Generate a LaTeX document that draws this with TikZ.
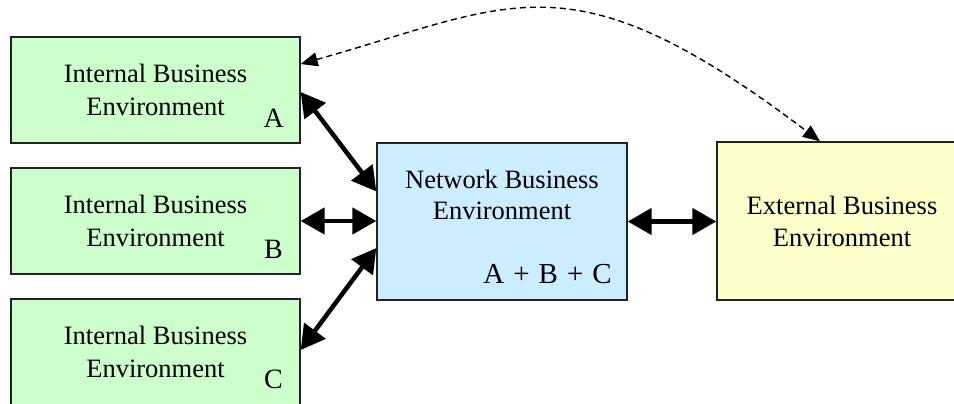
\documentclass[tikz,border=0pt]{standalone}
\usepackage{fontspec}
\setmainfont{Liberation Serif}
\usetikzlibrary{arrows.meta}
\definecolor{intgreen}{HTML}{CCFFCC}
\definecolor{netblue}{HTML}{CCECFF}
\definecolor{extyellow}{HTML}{FFFFCC}
\definecolor{edgegray}{HTML}{222222}
\tikzset{
  envbox/.style={draw=edgegray, line width=1.3pt, inner sep=0pt, align=center,
    font=\fontsize{26.5}{33}\selectfont},
  intbox/.style={envbox, fill=intgreen, minimum width=289pt, minimum height=106pt},
  netbox/.style={envbox, fill=netblue, minimum width=250pt, minimum height=157pt},
  extbox/.style={envbox, fill=extyellow, minimum width=250pt, minimum height=158pt},
  tag/.style={inner sep=0pt, anchor=base east, font=\fontsize{28}{32}\selectfont},
  link/.style={line width=4.5pt, {Triangle[length=24pt,width=26pt]}-{Triangle[length=24pt,width=26pt]}},
  loose/.style={line width=1.4pt, dash pattern=on 6pt off 4pt,
    {Triangle[length=17pt,width=14pt]}-{Triangle[length=17pt,width=14pt]}}
}
\newcommand{\tagsep}{\hspace{9pt}}
\begin{document}
\begin{tikzpicture}[x=1pt, y=-1pt]
  \useasboundingbox (0,0) rectangle (954,404);

  % internal environments
  \node[intbox] (intA) at (155.5,90)  {Internal Business\\Environment};
  \node[intbox] (intB) at (155.5,221) {Internal Business\\Environment};
  \node[intbox] (intC) at (155.5,352) {Internal Business\\Environment};
  \node[tag] (tagA) at (284,128) {A};
  \node[tag] (tagB) at (283,258) {B};
  \node[tag] (tagC) at (283,388) {C};

  % network environment
  \node[netbox] (net) at (502,221.5) {};
  \node[envbox, draw=none, fill=none, font=\fontsize{26.5}{31}\selectfont] (nettext) at (502,195) {Network Business\\Environment};
  \node[tag, font=\fontsize{29}{32}\selectfont] (tagN) at (612,283) {A\tagsep+\tagsep B\tagsep+\tagsep C};

  % external environment
  \node[extbox, font=\fontsize{26.5}{32}\selectfont] (ext) at (842,221) {External Business\\Environment};

  % links
  \draw[link] ([yshift=-2pt]intA.east) -- ([yshift=30pt]net.west);
  \draw[link] (intB.east) -- (intB.east -| net.west);
  \draw[link] ([yshift=-26.5pt]net.west) -- ([yshift=2pt]intC.east);
  \draw[link] (net.east) -- (net.east -| ext.west);

  \draw[loose] ([yshift=26pt]intA.east) .. controls (515,4) and (570,-48) .. ([xshift=-22pt]ext.north);
\end{tikzpicture}
\end{document}
